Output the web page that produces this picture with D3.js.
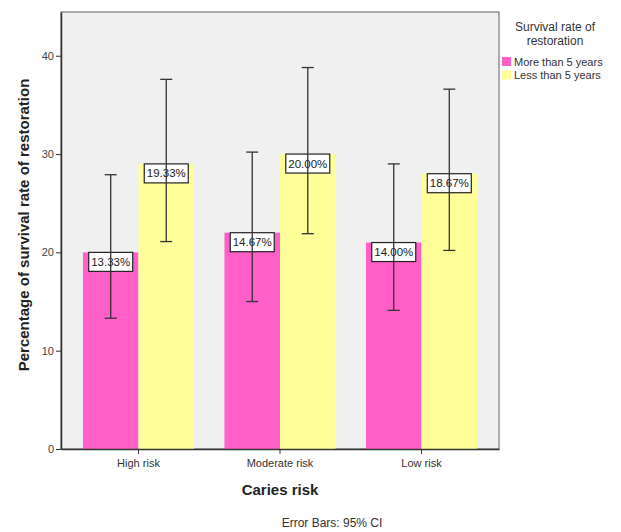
<!DOCTYPE html>
<html>
<head>
<meta charset="utf-8">
<script src="https://cdn.jsdelivr.net/npm/d3@7"></script>
<style>
  body { margin: 0; background: #fff; }
  text { font-family: "Liberation Sans", Arial, sans-serif; }
</style>
</head>
<body>
<div id="chart"></div>
<script>
// categories and groups
var categories = ["High risk", "Moderate risk", "Low risk"];
var groups = ["More than 5 years", "Less than 5 years"];
var groupColors = ["#ff5fc7", "#ffff99"];

// bar heights (one array per group, in category order)
var moreThan5 = [20, 22, 21];
var lessThan5 = [29, 30, 28];
// 95% CI limits
var moreLow = [13.3, 15.0, 14.1];
var moreHigh = [27.9, 30.2, 29.0];
var lessLow = [21.1, 21.9, 20.2];
var lessHigh = [37.6, 38.8, 36.6];
// percentage labels
var moreLabels = ["13.33%", "14.67%", "14.00%"];
var lessLabels = ["19.33%", "20.00%", "18.67%"];

var yTicks = [0, 10, 20, 30, 40];

var w = 621, h = 532;
var pLeft = 61, pRight = 499, pTop = 12, pBottom = 449;

var svg = d3.select("#chart").append("svg")
    .attr("width", w)
    .attr("height", h);

var x0 = d3.scaleBand()
    .domain(categories)
    .range([pLeft, pRight])
    .paddingInner(0.215)
    .paddingOuter(0.155);

var x1 = d3.scaleBand()
    .domain(groups)
    .range([0, x0.bandwidth()]);

var y = d3.scaleLinear()
    .domain([0, 44.45])
    .range([pBottom, pTop]);

// plot background
svg.append("rect")
    .attr("x", pLeft)
    .attr("y", pTop)
    .attr("width", pRight - pLeft)
    .attr("height", pBottom - pTop)
    .attr("fill", "#f0f0f0")
    .attr("stroke", "#777")
    .attr("stroke-width", 1.2);

// build rows from the arrays
var rows = [];
categories.forEach(function(c, i) {
    rows.push({cat: c, g: groups[0], v: moreThan5[i], lo: moreLow[i], hi: moreHigh[i], lab: moreLabels[i], col: groupColors[0]});
    rows.push({cat: c, g: groups[1], v: lessThan5[i], lo: lessLow[i], hi: lessHigh[i], lab: lessLabels[i], col: groupColors[1]});
});

function cx(d) { return x0(d.cat) + x1(d.g) + x1.bandwidth() / 2; }

svg.selectAll("rect.bar")
    .data(rows)
    .enter().append("rect")
    .attr("class", "bar")
    .attr("x", function(d) { return x0(d.cat) + x1(d.g); })
    .attr("y", function(d) { return y(d.v); })
    .attr("width", x1.bandwidth())
    .attr("height", function(d) { return y(0) - y(d.v); })
    .attr("fill", function(d) { return d.col; });

// axes
var yAxis = d3.axisLeft(y).tickValues(yTicks).tickSize(5).tickSizeOuter(0).tickPadding(2);
var gy = svg.append("g")
    .attr("transform", "translate(" + pLeft + ",0)")
    .call(yAxis);
gy.select(".domain").attr("stroke", "#333").attr("stroke-width", 1.5);
gy.selectAll(".tick line").attr("stroke", "#333");
gy.selectAll(".tick text")
    .style("font-size", "11px")
    .attr("fill", "#444");

var xAxis = d3.axisBottom(x0).tickSize(5).tickSizeOuter(0).tickPadding(5);
var gx = svg.append("g")
    .attr("transform", "translate(0," + pBottom + ")")
    .call(xAxis);
gx.select(".domain").attr("stroke", "#333").attr("stroke-width", 1.5);
gx.selectAll(".tick line").attr("stroke", "#333");
gx.selectAll(".tick text")
    .style("font-size", "11px")
    .attr("fill", "#333");

// value labels (error bars are drawn over them)
var bw = 44, bh = 19;
var lab = svg.selectAll("g.lab")
    .data(rows)
    .enter().append("g")
    .attr("class", "lab")
    .attr("transform", function(d) { return "translate(" + cx(d) + "," + y(d.v) + ")"; });
lab.append("rect")
    .attr("x", -bw / 2)
    .attr("y", 0)
    .attr("width", bw)
    .attr("height", bh)
    .attr("fill", "#fff")
    .attr("stroke", "#222")
    .attr("stroke-width", 1.2);
lab.append("text")
    .attr("x", 0)
    .attr("y", bh / 2)
    .attr("dy", "0.35em")
    .attr("text-anchor", "middle")
    .style("font-size", "11.5px")
    .attr("fill", "#222")
    .text(function(d) { return d.lab; });

// error bars
var capW = 12;
var eb = svg.selectAll("g.err")
    .data(rows)
    .enter().append("g")
    .attr("class", "err")
    .attr("stroke", "#333")
    .attr("stroke-width", 1.3);
eb.append("line")
    .attr("x1", cx)
    .attr("x2", cx)
    .attr("y1", function(d) { return y(d.lo); })
    .attr("y2", function(d) { return y(d.hi); });
eb.each(function(d) {
    var g = d3.select(this);
    [d.lo, d.hi].forEach(function(v) {
        g.append("line")
            .attr("x1", cx(d) - capW / 2)
            .attr("x2", cx(d) + capW / 2)
            .attr("y1", y(v))
            .attr("y2", y(v));
    });
});

// axis titles
svg.append("text")
    .attr("transform", "translate(24,225) rotate(-90)")
    .attr("text-anchor", "middle")
    .attr("dy", "0.35em")
    .style("font-size", "15px")
    .style("font-weight", "bold")
    .attr("fill", "#222")
    .text("Percentage of survival rate of restoration");

svg.append("text")
    .attr("x", (pLeft + pRight) / 2)
    .attr("y", 495)
    .attr("text-anchor", "middle")
    .style("font-size", "15px")
    .style("font-weight", "bold")
    .attr("fill", "#222")
    .text("Caries risk");

svg.append("text")
    .attr("x", 332)
    .attr("y", 527)
    .attr("text-anchor", "middle")
    .style("font-size", "12px")
    .attr("fill", "#333")
    .text("Error Bars: 95% CI");

// legend
var legTitle = svg.append("text")
    .attr("x", 555)
    .attr("y", 31)
    .attr("text-anchor", "middle")
    .style("font-size", "12px")
    .attr("fill", "#333");
legTitle.append("tspan").attr("x", 555).text("Survival rate of");
legTitle.append("tspan").attr("x", 555).attr("dy", 14).text("restoration");

var leg = svg.selectAll("g.leg")
    .data(groups)
    .enter().append("g")
    .attr("class", "leg")
    .attr("transform", function(d, i) { return "translate(502," + (57 + i * 13.5) + ")"; });
leg.append("rect")
    .attr("width", 9)
    .attr("height", 9)
    .attr("fill", function(d, i) { return groupColors[i]; });
leg.append("text")
    .attr("x", 12)
    .attr("y", 5)
    .attr("dy", "0.35em")
    .style("font-size", "11px")
    .attr("fill", "#333")
    .text(function(d) { return d; });
</script>
</body>
</html>
